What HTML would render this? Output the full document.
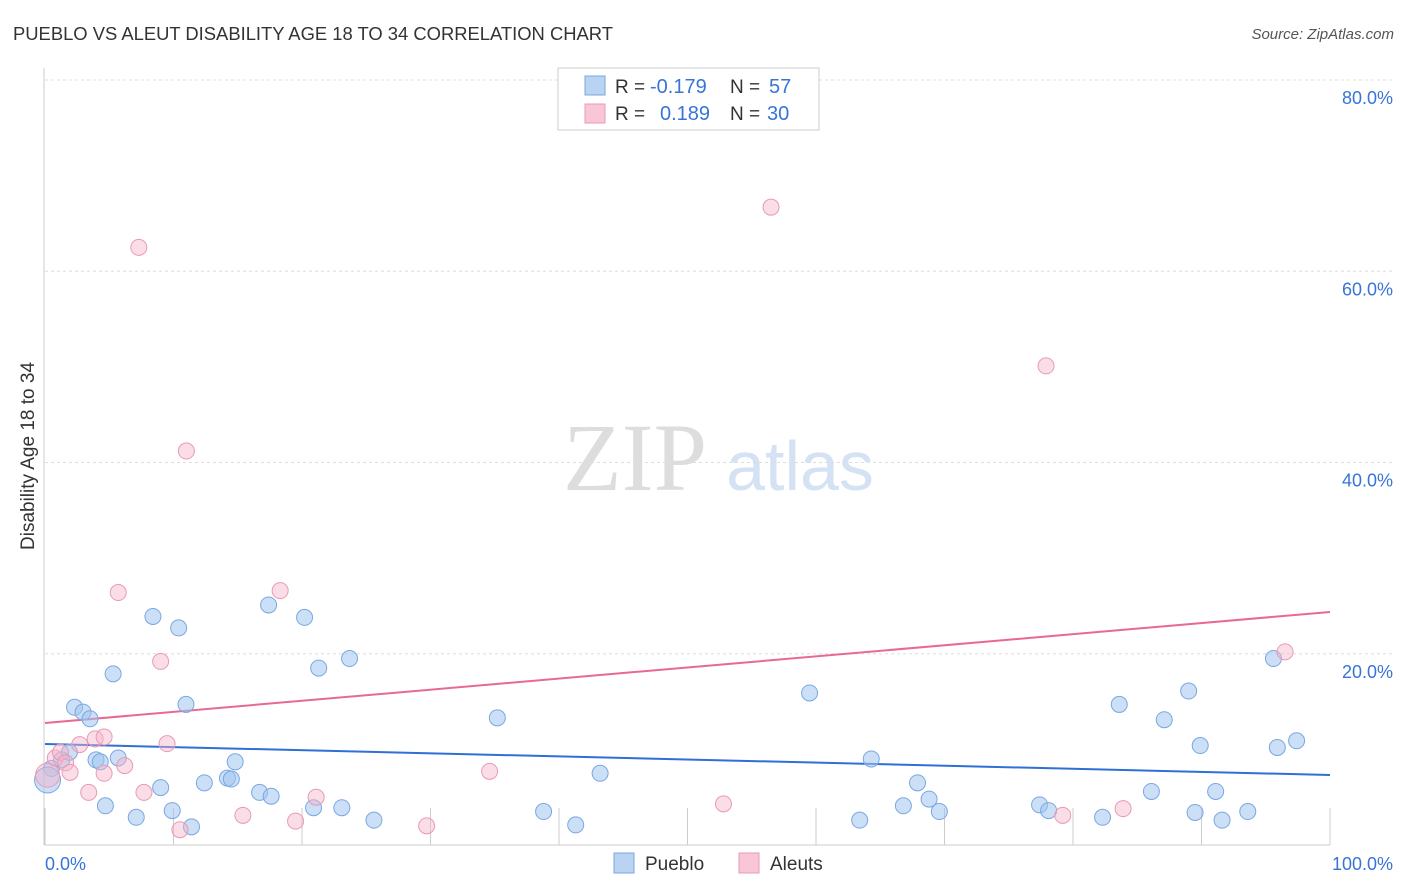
<!DOCTYPE html>
<html><head><meta charset="utf-8"><style>
body{margin:0;background:#fff;font-family:"Liberation Sans",sans-serif;}
svg{display:block}
</style></head><body>
<svg id="chart" width="1406" height="892" xmlns="http://www.w3.org/2000/svg">
<text x="13" y="40" font-size="18.4" fill="#333" font-family="Liberation Sans, sans-serif">PUEBLO VS ALEUT DISABILITY AGE 18 TO 34 CORRELATION CHART</text>
<text x="1394" y="39" font-size="15" fill="#555" text-anchor="end" font-style="italic">Source: ZipAtlas.com</text>
<text transform="translate(34,456) rotate(-90)" font-size="19" fill="#333" text-anchor="middle">Disability Age 18 to 34</text>
<g>
<text x="635" y="490" font-size="96" fill="#ddd" text-anchor="middle" font-family="Liberation Serif, serif">ZIP</text>
<text x="800" y="490" font-size="70" fill="#d4e2f4" text-anchor="middle">atlas</text>
</g>
<g id="grid"></g>
<g id="trend"></g>
<g id="points"></g>
<g>
<rect x="558" y="68" width="261" height="62" fill="#fff" stroke="#ccc"/>
<rect x="585" y="76" width="20" height="19" fill="#b9d3f3" stroke="#7aa7e0"/>
<rect x="585" y="104" width="20" height="19" fill="#f9c6d6" stroke="#e89ab5"/>
<text x="615" y="93" font-size="19" fill="#333">R =</text>
<text x="650" y="93" font-size="20" fill="#3874d8">-0.179</text>
<text x="730" y="93" font-size="19" fill="#333">N =</text>
<text x="769" y="93" font-size="20" fill="#3874d8">57</text>
<text x="615" y="120" font-size="19" fill="#333">R =</text>
<text x="660" y="120" font-size="20" fill="#3874d8">0.189</text>
<text x="730" y="120" font-size="19" fill="#333">N =</text>
<text x="767" y="120" font-size="20" fill="#3874d8">30</text>
</g>
<g>
<rect x="614" y="853" width="20" height="20" fill="#b9d3f3" stroke="#7aa7e0"/>
<text x="645" y="870" font-size="19" fill="#333">Pueblo</text>
<rect x="739" y="853" width="20" height="20" fill="#f9c6d6" stroke="#e89ab5"/>
<text x="770" y="870" font-size="19" fill="#333">Aleuts</text>
</g>
<text x="45" y="870" font-size="18" fill="#3874d8">0.0%</text>
<text x="1393" y="870" font-size="18" fill="#3874d8" text-anchor="end">100.0%</text>
</svg>
<script>
const yTicks=[20,40,60,80];
const xTicks=[0,10,20,30,40,50,60,70,80,90,100];
const blueX=[0.5,0.2,1.3,1.9,2.3,2.96,3.5,3.97,4.3,4.7,5.3,5.7,7.1,8.4,9.0,9.9,10.4,10.97,11.4,12.4,14.2,14.5,14.8,16.7,17.4,17.6,20.2,20.9,21.3,23.1,23.7,25.6,35.2,38.8,41.3,43.2,59.5,63.4,64.3,66.8,67.9,68.8,69.6,77.4,78.1,82.3,83.6,86.1,87.1,89.0,89.9,91.1,89.5,91.6,93.6,95.6,95.9,97.4];
const blueY=[8.0,6.8,8.9,9.7,14.4,13.9,13.2,8.9,8.7,4.1,17.9,9.1,2.9,23.9,6.0,3.6,22.7,14.7,1.9,6.5,7.0,6.9,8.7,5.5,25.1,5.1,23.8,3.9,18.5,3.9,19.5,2.6,13.3,3.5,2.1,7.5,15.9,2.6,9.0,4.1,6.5,4.8,3.5,4.2,3.6,2.9,14.7,5.6,13.1,16.1,10.4,5.6,3.4,2.6,3.5,19.5,10.2,10.9];
const pinkX=[0.2,0.8,1.2,1.6,1.95,2.7,3.4,3.9,4.6,4.6,5.7,6.2,7.3,7.7,9.0,9.5,10.5,11.0,15.4,18.3,19.5,21.1,29.7,34.6,52.8,56.5,77.9,79.2,83.9,96.5];
const pinkY=[7.3,9.1,9.7,8.6,7.6,10.5,5.5,11.1,11.3,7.5,26.4,8.3,62.5,5.5,19.2,10.6,1.6,41.2,3.1,26.6,2.5,5.0,2.0,7.7,4.3,66.7,50.1,3.1,3.8,20.2];
const blueTrend=[10.56,7.32];
const pinkTrend=[12.76,24.37];
const NS="http://www.w3.org/2000/svg";
const sx=v=>45+v*12.85, sy=v=>845-v*9.5625;
function mk(tag,a,parent){const e=document.createElementNS(NS,tag);for(const k in a)e.setAttribute(k,a[k]);document.getElementById(parent).appendChild(e);return e;}
let ax=mk('line',{x1:44,y1:68,x2:44,y2:845,stroke:'#ccc'},'grid');


let bx=mk('line',{x1:44,y1:845,x2:1330,y2:845,stroke:'#ccc'},'grid');


yTicks.forEach(t=>{
 let l=mk('line',{x1:45,x2:1394,y1:sy(t),y2:sy(t),stroke:'#ddd','stroke-dasharray':'3,3'},'grid');
 
 
 let tx=mk('text',{x:1393,y:sy(t)+24,'font-size':18,fill:'#3874d8','text-anchor':'end'},'grid');tx.textContent=t.toFixed(1)+'%';
 
 
});
xTicks.forEach(t=>{
 let l=mk('line',{x1:sx(t),x2:sx(t),y1:808,y2:845,stroke:'#ccc'},'grid');
 
 
});
let bl=mk('line',{x1:sx(0),y1:sy(blueTrend[0]),x2:sx(100),y2:sy(blueTrend[1]),stroke:'#2f6fd6','stroke-width':2},'trend');


let pl=mk('line',{x1:sx(0),y1:sy(pinkTrend[0]),x2:sx(100),y2:sy(pinkTrend[1]),stroke:'#e86a94','stroke-width':2},'trend');


blueX.forEach((x,i)=>{
 let c=mk('circle',{cx:sx(x),cy:sy(blueY[i]),r:i==1?13:8,fill:'rgba(160,196,240,0.55)',stroke:'#7aa7e0','stroke-width':1},'points');
 
 
});
pinkX.forEach((x,i)=>{
 let c=mk('circle',{cx:sx(x),cy:sy(pinkY[i]),r:i==0?12:8,fill:'rgba(246,180,202,0.45)',stroke:'#e89ab5','stroke-width':1},'points');
 
 
});
</script>
</body></html>
